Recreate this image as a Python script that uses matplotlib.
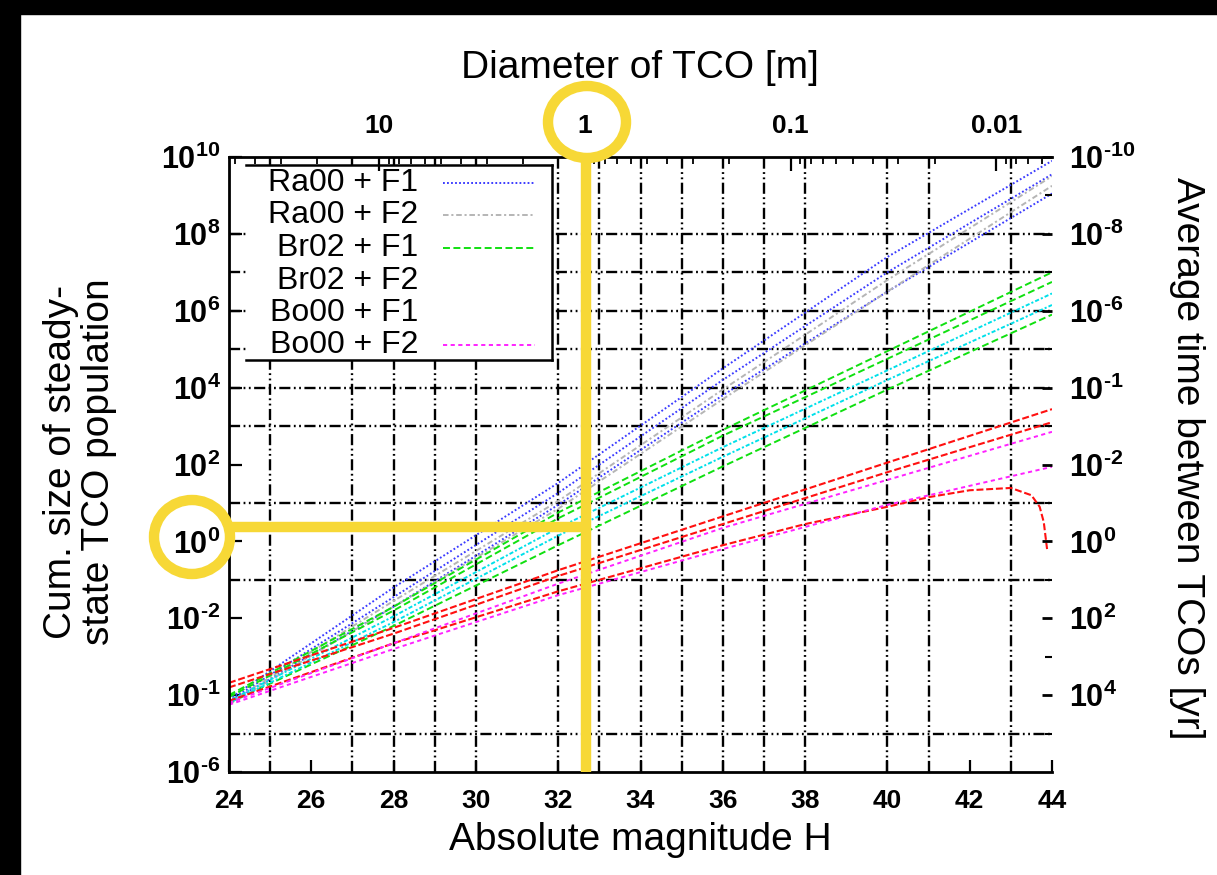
import matplotlib.pyplot as plt
import numpy as np
from matplotlib.patches import Ellipse, Rectangle
from matplotlib.lines import Line2D

plt.rcParams['font.family'] = ['Liberation Sans', 'DejaVu Sans']
plt.rcParams['mathtext.fontset'] = 'custom'
plt.rcParams['mathtext.rm'] = 'Liberation Sans:bold'
plt.rcParams['mathtext.bf'] = 'Liberation Sans:bold'
plt.rcParams['lines.scale_dashes'] = False

# absolute magnitude H where values were read
h_pts = [24, 28, 32, 36, 40, 44]

# log10 of cumulative steady-state TCO population
ra00_f1 = [[-4.10, -1.20, 1.52, 4.50, 7.40, 9.90],
           [-4.15, -1.45, 1.26, 4.20, 7.00, 9.55],
           [-4.20, -1.70, 0.95, 3.80, 6.50, 9.05]]
ra00_f2 = [[-4.20, -1.55, 1.05, 3.95, 6.80, 9.50],
           [-4.25, -1.70, 0.85, 3.70, 6.50, 9.25]]
br02_f1 = [[-4.00, -1.70, 0.75, 2.90, 4.95, 7.00],
           [-4.05, -1.80, 0.60, 2.75, 4.75, 6.75],
           [-4.20, -2.20, -0.10, 1.95, 3.95, 5.90]]
br02_f2 = [[-4.15, -1.95, 0.35, 2.45, 4.45, 6.45],
           [-4.20, -2.10, 0.15, 2.20, 4.20, 6.15]]
bo00_f1 = [[-3.68, -2.25, -0.75, 0.65, 2.05, 3.44],
           [-3.80, -2.40, -0.90, 0.45, 1.80, 3.10]]
bo00_f1_turn_h = [24, 28, 32, 36, 38, 40, 41, 42, 43, 43.5, 43.7, 43.8, 43.88]
bo00_f1_turn = [-4.15, -2.65, -1.30, -0.10, 0.45, 0.90, 1.15, 1.33, 1.39, 1.20, 0.90, 0.50, -0.20]
bo00_f2 = [[-4.20, -2.65, -1.10, 0.35, 1.60, 2.85],
           [-4.25, -2.80, -1.40, -0.20, 0.95, 1.94]]

legend_labels = ['Ra00 + F1', 'Ra00 + F2', 'Br02 + F1', 'Br02 + F2', 'Bo00 + F1', 'Bo00 + F2']

# grid positions as drawn in the figure
grid_h = [25, 27, 28, 29, 30, 32, 33, 34, 35, 36, 37, 38, 40, 41, 43]
grid_n = [1e8, 1e7, 1e6, 1e5, 1e4, 1e3, 1e1, 1e-1, 1e-5]

left_ticks = [1e10, 1e8, 1e6, 1e4, 1e2, 1e0, 1e-2, 1e-4, 1e-6]
left_labels = ['10', '8', '6', '4', '2', '0', '-2', '-1', '-6']
right_ticks = [1e10, 1e8, 1e6, 1e4, 1e2, 1e0, 1e-2, 1e-4]
right_labels = ['-10', '-8', '-6', '-1', '-2', '0', '2', '4']

diam_major = [10, 1, 0.1, 0.01]
diam_labels = ['10', '1', '0.1', '0.01']
h_at_1m = 32.65

W, HH = 1217, 875


def fx(px):
    return px / W


def fy(py):
    return 1 - py / HH


def pow_label(e):
    # short hyphen instead of the long math minus
    if e.startswith('-'):
        return r'$\mathbf{10^{\text{-}%s}}$' % e[1:]
    return r'$\mathbf{10^{%s}}$' % e


fig = plt.figure(figsize=(W / 100, HH / 100), dpi=100)
fig.patch.set_facecolor('white')
fig.patches.append(Rectangle((0, fy(14)), 1, 14 / HH, transform=fig.transFigure,
                             color='black', zorder=0))
fig.patches.append(Rectangle((0, 0), fx(20), 1, transform=fig.transFigure,
                             color='black', zorder=0))

ax_l, ax_r, ax_t, ax_b = 229, 1052, 157, 772
ax = fig.add_axes([fx(ax_l), fy(ax_b), (ax_r - ax_l) / W, (ax_b - ax_t) / HH])
ax.set_yscale('log')
ax.set_xlim(24, 44)
ax.set_ylim(1e-6, 1e10)

# gnuplot style grid
grid_ls = (0, (8, 2.5, 1.3, 2.5, 1.3, 2.5))
for g in grid_h:
    ax.axvline(g, color='black', lw=1.7, ls=grid_ls, zorder=1)
for g in grid_n:
    ax.axhline(g, color='black', lw=1.7, ls=grid_ls, zorder=1)

styles = {
    'ra1': dict(color='#3b3bff', ls=(0, (1.3, 1.6)), lw=1.4),
    'ra2': dict(color='#b5b5b5', ls=(0, (4, 2, 1.5, 2)), lw=1.4),
    'br1': dict(color='#10e010', ls=(0, (5, 2.5)), lw=1.4),
    'br2': dict(color='#00e0ea', ls=(0, (1.5, 1.5, 3, 1.5)), lw=1.4),
    'bo1': dict(color='#ff1010', ls=(0, (5, 2)), lw=1.5),
    'bo2': dict(color='#ff22ff', ls=(0, (3, 2.5)), lw=1.4),
}

for v in ra00_f1:
    ax.plot(h_pts, 10 ** np.array(v), zorder=2, **styles['ra1'])
for v in ra00_f2:
    ax.plot(h_pts, 10 ** np.array(v), zorder=2, **styles['ra2'])
for v in br02_f1:
    ax.plot(h_pts, 10 ** np.array(v), zorder=2, **styles['br1'])
for v in br02_f2:
    ax.plot(h_pts, 10 ** np.array(v), zorder=2, **styles['br2'])
for v in bo00_f1:
    ax.plot(h_pts, 10 ** np.array(v), zorder=2, **styles['bo1'])
ax.plot(bo00_f1_turn_h, 10 ** np.array(bo00_f1_turn), zorder=2, **styles['bo1'])
for v in bo00_f2:
    ax.plot(h_pts, 10 ** np.array(v), zorder=2, **styles['bo2'])

# axes frame / ticks
for s in ['left', 'bottom', 'top']:
    ax.spines[s].set_linewidth(2)
ax.spines['right'].set_visible(False)
ax.set_xticks(np.arange(24, 45, 2))
ax.set_xticklabels([str(t) for t in range(24, 45, 2)], fontsize=19, fontweight='bold')
ax.set_yticks(left_ticks)
ax.set_yticklabels([pow_label(e) for e in left_labels], fontsize=22)
ax.yaxis.set_minor_locator(plt.NullLocator())
ax.tick_params(axis='both', direction='in', length=9, width=1.6, top=False, right=False)
ax.tick_params(axis='x', pad=12)
ax.tick_params(axis='y', pad=6)

# right axis: average time between TCOs
ax2 = ax.twinx()
ax2.set_yscale('log')
ax2.set_ylim(1e-6, 1e10)
ax2.set_yticks(right_ticks)
ax2.set_yticklabels([pow_label(e) for e in right_labels], fontsize=22)
ax2.yaxis.set_minor_locator(plt.FixedLocator([10.0 ** k for k in range(-5, 10, 1)]))
ax2.yaxis.set_minor_formatter(plt.NullFormatter())
ax2.tick_params(axis='y', which='major', direction='in', length=7, width=2, pad=12)
ax2.tick_params(axis='y', which='minor', direction='in', length=5, width=1.5)
for s in ax2.spines.values():
    s.set_visible(False)

# top axis: diameter
ax3 = ax.twiny()
ax3.set_xlim(24, 44)
ax3.set_xticks([h_at_1m - 5 * np.log10(d) for d in diam_major])
ax3.set_xticklabels(diam_labels, fontsize=19, fontweight='bold')
minor_d = [m * 10.0 ** k for k in range(-3, 2) for m in range(2, 10)]
minor_h = [h_at_1m - 5 * np.log10(d) for d in minor_d]
ax3.set_xticks([h for h in minor_h if 24 <= h <= 44], minor=True)
ax3.tick_params(axis='x', which='major', direction='in', length=10, width=1.6, pad=14)
ax3.tick_params(axis='x', which='minor', direction='in', length=5, width=1.3)
for s in ax3.spines.values():
    s.set_visible(False)


def axc(px, py):
    return (px - ax_l) / (ax_r - ax_l), (ax_b - py) / (ax_b - ax_t)


# gnuplot style key in the upper left
x0, y0 = axc(246, 360)
x1, y1 = axc(552, 165)
ax.add_patch(Rectangle((x0, y0), x1 - x0, y1 - y0, transform=ax.transAxes,
                       facecolor='white', edgecolor='none', zorder=3))
for seg in [([x0, x1], [y1, y1]), ([x0, x1], [y0, y0]), ([x1, x1], [y0, y1])]:
    ax.add_line(Line2D(seg[0], seg[1], transform=ax.transAxes, color='black',
                       lw=1.8, zorder=4))
row_y = [183, 215, 248, 281, 313, 345]
sample_styles = ['ra1', 'ra2', 'br1', None, None, 'bo2']
for lab, ry, st in zip(legend_labels, row_y, sample_styles):
    tx, ty = axc(418, ry)
    ax.text(tx, ty, lab, transform=ax.transAxes, ha='right', va='center',
            fontsize=23, zorder=5)
    if st is not None:
        sx0, _ = axc(443, ry)
        sx1, _ = axc(535, ry)
        ax.add_line(Line2D([sx0, sx1], [ty, ty], transform=ax.transAxes,
                           zorder=5, **styles[st]))

# axis titles
fig.text(fx(640), fy(68), 'Diameter of TCO [m]', ha='center', va='center', fontsize=28)
fig.text(fx(640), fy(840), 'Absolute magnitude H', ha='center', va='center', fontsize=28)
fig.text(fx(80), fy(462), 'Cum. size of steady-\nstate TCO population', ha='center',
         va='center', rotation=90, fontsize=28, linespacing=1.1)
fig.text(fx(1187), fy(458), 'Average time between TCOs [yr]', ha='center',
         va='center', rotation=270, fontsize=28)

# yellow highlight marks
yel = '#f7d836'
fig.add_artist(Line2D([fx(586), fx(586)], [fy(159), fy(772)], transform=fig.transFigure,
                      color=yel, lw=7.5, solid_capstyle='butt', zorder=10))
fig.add_artist(Line2D([fx(231), fx(591)], [fy(527), fy(527)], transform=fig.transFigure,
                      color=yel, lw=7.5, solid_capstyle='butt', zorder=10))
fig.add_artist(Ellipse((fx(192), fy(537)), 2 * 38 / W, 2 * 37 / HH, transform=fig.transFigure,
                       fill=False, edgecolor=yel, lw=7.5, zorder=10))
fig.add_artist(Ellipse((fx(587), fy(122)), 2 * 39 / W, 2 * 36 / HH, transform=fig.transFigure,
                       fill=False, edgecolor=yel, lw=7.5, zorder=10))

fig.savefig('out.png', dpi=100, facecolor='white')
